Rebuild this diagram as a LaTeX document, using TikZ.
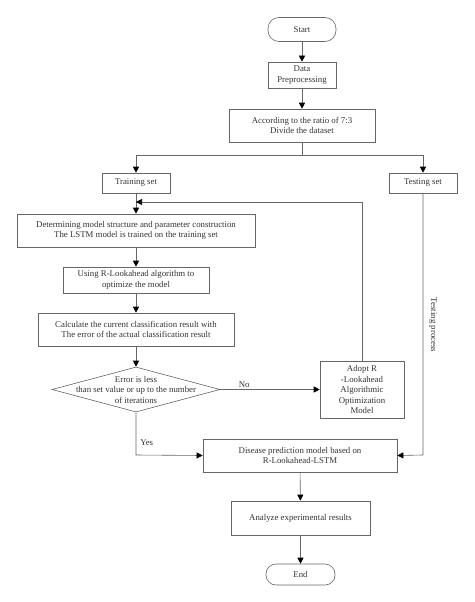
\documentclass[tikz,border=0pt]{standalone}
\usepackage{fontspec}
\setmainfont{Liberation Serif}
\usetikzlibrary{shapes.geometric,arrows.meta}
\begin{document}
\begin{tikzpicture}[x=1pt,y=-1pt,
  font=\fontsize{8.8}{10.5}\selectfont,
  every node/.style={text=black!80, align=center, inner sep=1pt},
  box/.style={draw=black!60, line width=0.6pt, minimum width=#1, anchor=center},
  term/.style={draw=black!60, line width=0.6pt, rounded corners=11pt, minimum width=68pt, minimum height=24pt},
  dec/.style={draw=black!60, line width=0.6pt, diamond, aspect=3.73, minimum width=168pt, minimum height=45pt, inner sep=0pt},
  line/.style={draw=black!60, line width=0.6pt},
  arr/.style={line, -{Triangle[length=6pt,width=6pt,fill=black,color=black]}}
]
\useasboundingbox (0,0) rectangle (474,602);
\node[term] (start) at (302,29.5) {Start};
\node[box=68pt, minimum height=26pt] (pre) at (302,75) {Data\\Preprocessing};
\node[box=146pt, minimum height=33pt] (div) at (302,125.5) {According to the ratio of 7:3\\Divide the dataset};
\node[box=68pt, minimum height=20pt] (train) at (136,183) {Training set};
\node[box=68pt, minimum height=20pt] (test) at (423,183) {Testing set};
\node[box=238pt, minimum height=33pt] (det) at (136,230.5) {Determining model structure and parameter construction\\The LSTM model is trained on the training set};
\node[box=146pt, minimum height=26pt] (use) at (136,280) {Using R-Lookahead algorithm to\\optimize the model};
\node[box=196pt, minimum height=33pt] (calc) at (136,329.5) {Calculate the current classification result with\\The error of the actual classification result};
\node[dec] (err) at (136,389.5) {};
\node at (136,389.5) {Error is less\\than set value or up to the number\\of iterations};
\node[box=84pt, minimum height=57pt] (adopt) at (362,389.5) {Adopt R\\-Lookahead\\Algorithmic\\Optimization\\Model};
\node[box=194pt, minimum height=33pt] (dis) at (300,455.5) {Disease prediction model based on\\R-Lookahead-LSTM};
\node[box=139pt, minimum height=34pt] (ana) at (300.5,518) {Analyze experimental results};
\node[term, minimum height=21pt, minimum width=69pt, rounded corners=10pt] (end) at (300.5,574.5) {End};

\coordinate (split) at (302,155);
\coordinate (fb) at (362,202);
\coordinate (fbin) at (136,202);
\coordinate (yes) at (136,455);
\coordinate (tst) at (423,455);

\draw[arr] (start) -- (pre);
\draw[arr] (pre) -- (div);
\draw[line] (div) -- (split);
\draw[arr] (split) -| (train);
\draw[arr] (split) -| (test);
\draw[arr] (train) -- (det);
\draw[arr] (adopt.north) -- (fb) -- (fbin);
\draw[arr] (det) -- (use);
\draw[arr] (use) -- (calc);
\draw[arr] (calc) -- (err);
\draw[arr] (err.east) -- node[above, pos=0.24, yshift=1pt] {No} (adopt.west);
\draw[arr] (err.south) -- node[pos=0.72, anchor=west, xshift=3pt] {Yes} (yes) -- (dis.west);
\draw[arr] (test.south) -- (tst) -- (dis.east);
\node[rotate=-90] (tp) at (433,325) {Testing process};
\draw[arr] (dis) -- (ana);
\draw[arr] (ana) -- (end);
\end{tikzpicture}
\end{document}
